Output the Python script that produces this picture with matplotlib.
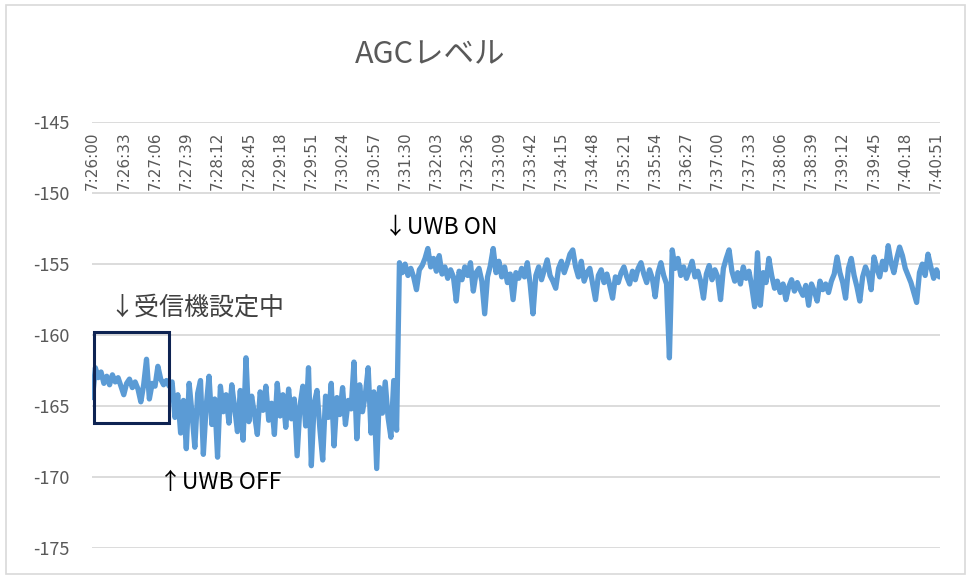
import matplotlib
matplotlib.use("Agg")
import matplotlib.pyplot as plt
from matplotlib.patches import Rectangle
import matplotlib.transforms as mtransforms

plt.rcParams["font.family"] = ["Noto Sans CJK JP", "DejaVu Sans"]
plt.rcParams["axes.unicode_minus"] = False

# AGC level, one reading every 3 s starting 7:26:00
agc_setup = [-164.4, -162.3, -163.0, -162.6, -163.4, -162.9, -163.5, -162.8, -163.3, -163.0,
             -163.6, -164.2, -163.4, -163.1, -163.7, -163.3, -163.8, -164.7, -163.5, -161.7,
             -164.5, -163.4, -163.6, -162.2, -163.1, -163.5, -163.2, -163.6]
agc_off = [-163.3, -165.8, -164.2, -166.9, -164.6, -168.0, -163.4, -165.5, -167.9, -164.1,
           -163.2, -168.4, -165.0, -162.9, -166.3, -164.5, -168.6, -163.6, -165.4, -164.2,
           -166.2, -163.5, -165.1, -166.8, -163.9, -167.4, -161.6, -166.1, -164.3, -165.6,
           -167.0, -164.0, -165.3, -163.6, -166.0, -164.8, -167.0, -163.4, -165.7, -164.2,
           -166.5, -163.8, -165.9, -164.5, -168.5, -165.0, -163.6, -166.4, -162.3, -169.2,
           -164.8, -163.9, -166.6, -168.8, -164.3, -165.8, -163.4, -167.8, -164.4, -165.6,
           -163.7, -166.3, -164.6, -165.2, -161.9, -167.3, -163.5, -165.4, -164.2, -162.3,
           -166.9, -164.0, -169.4, -163.7, -165.5, -163.3, -165.8, -167.2, -163.2, -166.7]
agc_on = [-154.9, -155.6, -155.0, -155.8, -155.3, -155.9, -156.8, -155.4, -155.1, -154.6,
          -153.9, -155.2, -154.6, -155.5, -154.4, -155.7, -155.2, -156.0, -155.4, -155.9,
          -157.6, -155.5, -156.1, -155.2, -155.8, -154.9, -156.9, -155.6, -155.3, -156.2,
          -158.5, -155.9, -155.1, -153.9, -155.6, -154.8, -155.9, -155.2, -156.3, -155.7,
          -157.5, -155.6, -156.0, -155.3, -155.9, -154.9, -156.4, -158.5, -155.8, -155.2,
          -156.1, -155.4, -154.7, -155.8, -156.2, -156.7, -155.3, -154.8, -155.6, -155.0,
          -154.3, -154.0, -155.2, -155.9, -154.8, -156.2, -155.6, -155.3, -156.4, -157.5,
          -155.8, -155.4, -156.3, -155.7, -156.5, -157.4, -155.9, -156.3, -155.6, -155.2,
          -155.9, -156.4, -155.5, -156.1, -155.3, -154.9, -155.7, -156.3, -155.4, -156.0,
          -157.3, -155.6, -154.9, -155.8, -156.4, -161.6, -154.0, -155.3, -154.6, -155.8,
          -155.2, -156.0, -155.4, -154.8, -155.9, -155.5, -156.2, -157.4, -155.7, -155.1,
          -156.1, -155.4, -155.9, -157.5, -155.3, -154.6, -154.0, -155.5, -156.2, -155.6,
          -156.4, -155.2, -156.0, -155.5, -156.6, -158.0, -154.2, -157.9, -155.6, -156.3,
          -154.6, -155.8, -156.7, -156.2, -157.0, -156.4, -157.5, -156.6, -156.1, -156.9,
          -156.3, -156.8, -157.2, -156.5, -157.9, -156.4, -156.9, -157.6, -156.2, -156.8,
          -156.4, -157.0, -156.2, -155.7, -154.5, -155.6, -156.3, -157.4, -155.3, -154.6,
          -155.8, -156.6, -157.6, -155.9, -155.2, -155.7, -156.8, -154.5, -155.3, -155.9,
          -154.8, -155.4, -153.7, -154.9, -155.6, -154.6, -153.8, -154.4, -155.3, -155.8,
          -156.3, -157.0, -157.7, -155.6, -155.0, -155.8, -154.3, -155.2, -156.0, -155.4,
          -155.9]
agc = agc_setup + agc_off + agc_on

time_labels = ["7:26:00", "7:26:33", "7:27:06", "7:27:39", "7:28:12", "7:28:45", "7:29:18",
               "7:29:51", "7:30:24", "7:30:57", "7:31:30", "7:32:03", "7:32:36", "7:33:09",
               "7:33:42", "7:34:15", "7:34:48", "7:35:21", "7:35:54", "7:36:27", "7:37:00",
               "7:37:33", "7:38:06", "7:38:39", "7:39:12", "7:39:45", "7:40:18", "7:40:51"]
label_step = 11  # 33 s between labels, 3 s per sample

GRAY = "#595959"
GRID = "#D9D9D9"
LINE = "#5B9BD5"

fig = plt.figure(figsize=(9.71, 5.79), dpi=100)
fig.patches.append(Rectangle((0.006, 0.008), 0.988, 0.984, transform=fig.transFigure,
                             fill=False, edgecolor=GRID, linewidth=1.2))
ax = fig.add_axes([0.0947, 0.0535, 0.8733, 0.7355])

ax.plot(range(len(agc)), agc, color=LINE, linewidth=3.8,
        solid_joinstyle="round", solid_capstyle="round", zorder=3)

ax.set_ylim(-175, -145)
ax.set_xlim(-0.2, len(agc) - 0.8)
ax.set_yticks(range(-175, -144, 5))
ax.tick_params(axis="y", length=0, pad=16, labelsize=13, labelcolor=GRAY)
ax.set_xticks([])
ax.grid(True, axis="y", color=GRID, linewidth=1.3, zorder=0)
for s in ax.spines.values():
    s.set_visible(False)

# time labels hang just under the top gridline
trans = mtransforms.blended_transform_factory(ax.transData, ax.transAxes)
for i, lab in enumerate(time_labels):
    ax.text(i * label_step, 0.978, lab, transform=trans, rotation=90,
            ha="center", va="top", fontsize=11, color=GRAY,
            family=["DejaVu Sans"])

# receiver-setting box
ax.add_patch(Rectangle((0.4, -166.2), 26.4, 6.45, fill=False,
                       edgecolor="#0E2352", linewidth=2.2, zorder=4))

ax.text(6.0, -159.0, "↓受信機設定中", fontsize=18, color="#404040", va="bottom", ha="left")
ax.text(23.5, -170.4, "↑UWB OFF", fontsize=16.5, color="black", va="center", ha="left")
ax.text(102.5, -152.4, "↓UWB ON", fontsize=16.5, color="black", va="center", ha="left")

fig.text(0.443, 0.905, "AGCレベル", fontsize=22, color=GRAY, ha="center", va="center")

fig.savefig("out.png", dpi=100)
